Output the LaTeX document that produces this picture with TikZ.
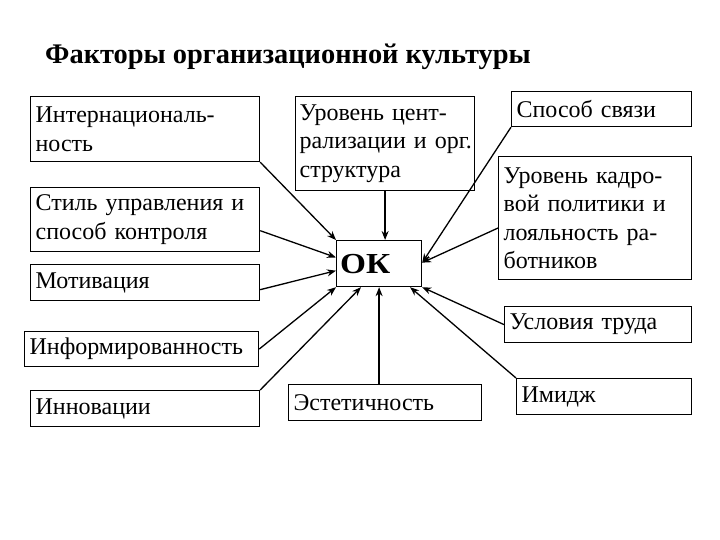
\documentclass[tikz,border=0pt]{standalone}
\usepackage{fontspec}
\setmainfont{Liberation Serif}
\usetikzlibrary{calc,arrows.meta}
\tikzset{
  fbox/.style={draw=black, line width=1.2pt, anchor=north west, inner xsep=5pt, inner ysep=0pt,
    align=left, font=\fontsize{24}{28.5}\selectfont},
  conn/.style={line width=1.3pt, -{Stealth[length=9pt,width=7pt]}},
}
\begin{document}
\begin{tikzpicture}[x=1pt,y=-1pt]
\useasboundingbox (0,0) rectangle (720,540);
\node[anchor=base west, font=\fontsize{28.4}{30}\selectfont\bfseries, inner sep=0] (title) at (45,64) {Факторы организационной культуры};

\node[fbox, text width=219pt, minimum height=65pt] (int) at (30,96) {Интернациональ-\\ность};
\node[fbox, text width=219pt, minimum height=64pt] (st) at (30,187) {Стиль управления и\\способ контроля};
\node[fbox, text width=219pt, minimum height=36pt] (mot) at (30,264) {Мотивация};
\node[fbox, text width=224pt, minimum height=35pt] (inf) at (24,331) {Информированность};
\node[fbox, text width=219pt, minimum height=36pt] (inn) at (30,390) {Инновации};
\node[fbox, text width=183pt, minimum height=36pt] (est) at (288,384) {Эстетичность};
\node[fbox, text width=175pt, inner xsep=2pt, minimum height=94pt] (cen) at (295,96) {\hspace{2pt}Уровень цент-\\\hspace{2pt}рализации и орг.\\\hspace{2pt}структура};
\node[fbox, text width=170pt, minimum height=35pt] (svz) at (511,91) {Способ связи};
\node[fbox, text width=183pt, minimum height=123pt] (kad) at (498,156) {Уровень кадро-\\вой политики и\\лояльность ра-\\ботников};
\node[fbox, text width=177pt, minimum height=36pt] (usl) at (504,306) {Условия труда};
\node[fbox, text width=165pt, minimum height=36pt] (img) at (516,378) {Имидж};
\node[draw=black, line width=1.2pt, anchor=north west, text width=78pt, inner xsep=3.5pt, inner ysep=0pt,
  minimum height=46pt, align=left,
  font=\fontsize{29}{30}\selectfont\bfseries] (ok) at (336,240) {\scalebox{1.15}[1]{ОК}};

\draw[conn] (int.south east) -- (ok.north west);
\draw[conn] ($(st.north east)!0.67!(st.south east)$) -- ($(ok.north west)!0.37!(ok.south west)$);
\draw[conn] ($(mot.north east)!0.69!(mot.south east)$) -- ($(ok.north west)!0.65!(ok.south west)$);
\draw[conn] (inf.east) -- (ok.south west);
\draw[conn] (inn.north east) -- ($(ok.south west)!0.29!(ok.south east)$);
\draw[conn] (est.north -| ok.south) -- (ok.south);
\draw[conn] (img.north west) -- ($(ok.south west)!0.86!(ok.south east)$);
\draw[conn] (usl.west) -- (ok.south east);
\draw[conn] ($(kad.north west)!0.58!(kad.south west)$) -- ($(ok.north east)!0.48!(ok.south east)$);
\draw[conn] (svz.south west) -- ($(ok.north east)!0.48!(ok.south east)$);
\draw[conn] (cen.south) -- (cen.south |- ok.north);
\end{tikzpicture}
\end{document}
